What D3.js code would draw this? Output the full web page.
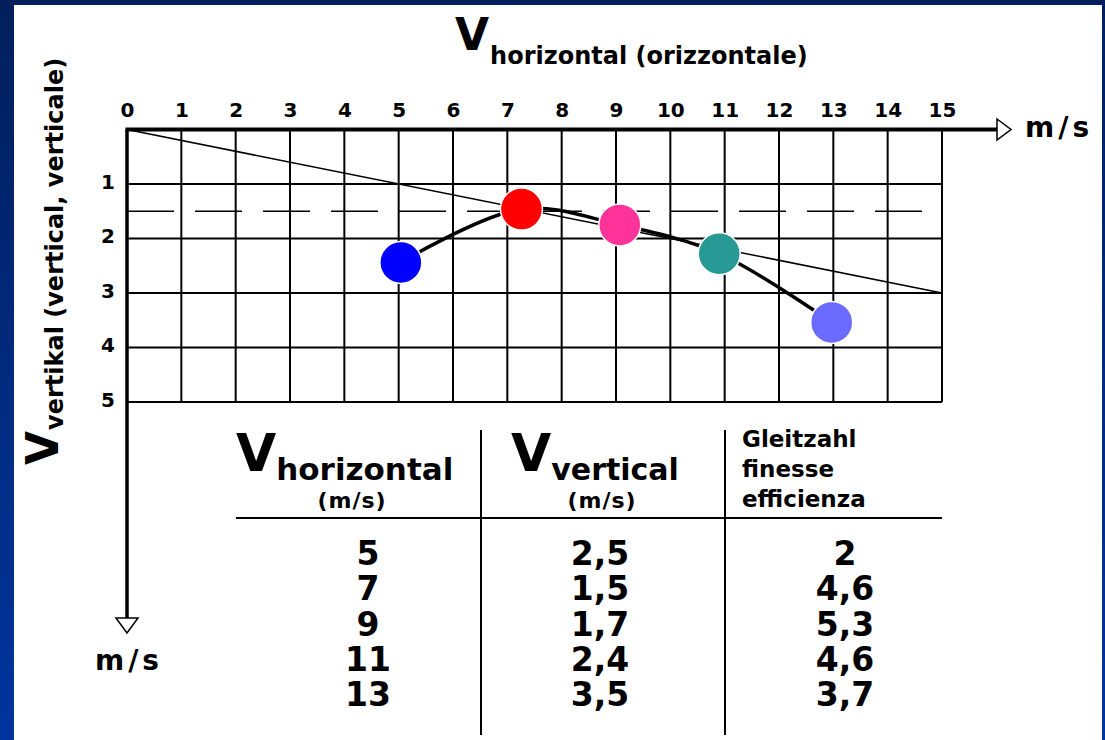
<!DOCTYPE html>
<html><head><meta charset="utf-8">
<script src="https://cdn.jsdelivr.net/npm/d3@7"></script>
<style>
html,body{margin:0;padding:0;background:#fff;}
svg{display:block;}
text{font-family:"DejaVu Sans",sans-serif;font-weight:bold;fill:#000;}
</style></head>
<body>
<svg id="chart" width="1105" height="740"></svg>
<script>
// ---- data ----
const xTicks = d3.range(0, 16);          // 0..15 m/s
const yTicks = [1, 2, 3, 4, 5];          // 1..5 m/s
const yGrid = d3.range(0, 6);
const pointsX = [5.04, 7.26, 9.07, 10.9, 12.97];
const pointsY = [2.44, 1.46, 1.75, 2.28, 3.54];
const pointColors = ["#0000ff", "#ff0000", "#ff3399", "#279a96", "#6b6bff"];
const tangentLine = [[0, 0], [15, 3]];
const dashedLevel = 1.5;
const tableHoriz = ["5", "7", "9", "11", "13"];
const tableVert = ["2,5", "1,5", "1,7", "2,4", "3,5"];
const tableGlide = ["2", "4,6", "5,3", "4,6", "3,7"];
const glideHeader = ["Gleitzahl", "finesse", "efficienza"];

const svg = d3.select("#chart");
const W = 1105, H = 740;

// background frame
const defs = svg.append("defs");
const grad = defs.append("linearGradient").attr("id", "bg").attr("x1", 0).attr("y1", 0).attr("x2", 0).attr("y2", 1);
grad.append("stop").attr("offset", "0%").attr("stop-color", "#001f5c");
grad.append("stop").attr("offset", "100%").attr("stop-color", "#00359e");
svg.append("rect").attr("width", W).attr("height", H).attr("fill", "url(#bg)");
svg.append("rect").attr("x", 14).attr("y", 5).attr("width", 1088).attr("height", H - 5).attr("fill", "#fff");

const x = d3.scaleLinear().domain([0, 15]).range([127, 942]);
const y = d3.scaleLinear().domain([0, 5]).range([129.5, 402]);

const g = svg.append("g");

// grid
g.selectAll("line.vg").data(xTicks.filter(d => d > 0)).join("line")
  .attr("x1", d => x(d)).attr("x2", d => x(d)).attr("y1", y(0)).attr("y2", y(5))
  .attr("stroke", "#000").attr("stroke-width", 2);
g.selectAll("line.hg").data(yGrid.filter(d => d > 0)).join("line")
  .attr("x1", x(0)).attr("x2", x(15)).attr("y1", d => y(d)).attr("y2", d => y(d))
  .attr("stroke", "#000").attr("stroke-width", 2);

// dashed level line
g.append("line").attr("x1", x(0)).attr("x2", x(15)).attr("y1", y(dashedLevel)).attr("y2", y(dashedLevel))
  .attr("stroke", "#000").attr("stroke-width", 1.5).attr("stroke-dasharray", "47 21");

// tangent line
g.append("line").attr("x1", x(tangentLine[0][0])).attr("y1", y(tangentLine[0][1]))
  .attr("x2", x(tangentLine[1][0])).attr("y2", y(tangentLine[1][1]))
  .attr("stroke", "#000").attr("stroke-width", 1.5);

// axes lines with arrows
g.append("line").attr("x1", x(0) - 1.5).attr("x2", 997).attr("y1", y(0)).attr("y2", y(0))
  .attr("stroke", "#000").attr("stroke-width", 4);
g.append("path").attr("d", `M997,${y(0) - 10.5}L1011,${y(0)}L997,${y(0) + 10.5}Z`)
  .attr("fill", "#fff").attr("stroke", "#000").attr("stroke-width", 1.5);
g.append("line").attr("x1", x(0)).attr("x2", x(0)).attr("y1", y(0)).attr("y2", 618)
  .attr("stroke", "#000").attr("stroke-width", 3.5);
g.append("path").attr("d", `M${x(0) - 11},618L${x(0)},633L${x(0) + 11},618Z`)
  .attr("fill", "#fff").attr("stroke", "#000").attr("stroke-width", 1.5);

// axis tick labels via d3 axes
const axTop = g.append("g").attr("transform", `translate(0,${y(0)})`)
  .call(d3.axisTop(x).tickValues(xTicks).tickSize(0).tickPadding(13).tickFormat(d3.format("d")));
axTop.select(".domain").remove();
axTop.selectAll("text").style("font-size", "20px").style("font-family", "DejaVu Sans").style("font-weight", "bold");

const axLeft = g.append("g").attr("transform", `translate(${x(0)},-2)`)
  .call(d3.axisLeft(y).tickValues(yTicks).tickSize(0).tickPadding(12).tickFormat(d3.format("d")));
axLeft.select(".domain").remove();
axLeft.selectAll("text").attr("text-anchor", "middle").attr("x", -19)
  .style("font-size", "20px").style("font-family", "DejaVu Sans").style("font-weight", "bold");

// unit labels
g.append("text").attr("x", 1025).attr("y", 137).style("font-size", "28px").attr("letter-spacing", 4).text("m/s");
g.append("text").attr("x", x(0) + 2).attr("y", 670).attr("text-anchor", "middle").style("font-size", "28px").attr("letter-spacing", 4).text("m/s");

// titles
const t1 = g.append("text").attr("x", 455).attr("y", 50);
t1.append("tspan").style("font-size", "44px").text("V");
t1.append("tspan").attr("dx", 1).attr("dy", 14).style("font-size", "24px").text("horizontal (orizzontale)");

const t2 = g.append("text").attr("transform", "translate(58,465) rotate(-90)");
t2.append("tspan").style("font-size", "44px").text("V");
t2.append("tspan").attr("dx", 1).attr("dy", 5).style("font-size", "24px").text("vertikal (vertical, verticale)");

// curve
const pts = pointsX.map((v, i) => [v, pointsY[i]]);
g.append("path").datum(pts)
  .attr("d", d3.line().x(d => x(d[0])).y(d => y(d[1])).curve(d3.curveCatmullRom.alpha(0.5)))
  .attr("fill", "none").attr("stroke", "#000").attr("stroke-width", 3.5);

// points
g.selectAll("circle.pt").data(pts).join("circle")
  .attr("cx", d => x(d[0])).attr("cy", d => y(d[1])).attr("r", 21)
  .attr("fill", (d, i) => pointColors[i]).attr("stroke", "#fff").attr("stroke-width", 1.5);

// table
const tbl = svg.append("g");
tbl.append("line").attr("x1", 236).attr("x2", 942).attr("y1", 518).attr("y2", 518).attr("stroke", "#000").attr("stroke-width", 2);
[481, 725].forEach(xx => tbl.append("line").attr("x1", xx).attr("x2", xx).attr("y1", 430).attr("y2", 735).attr("stroke", "#000").attr("stroke-width", 2));

const h1 = tbl.append("text").attr("x", 236).attr("y", 471);
h1.append("tspan").style("font-size", "52px").text("V");
h1.append("tspan").attr("dx", 0).attr("dy", 9).style("font-size", "31px").text("horizontal");
tbl.append("text").attr("x", 352).attr("y", 508).attr("text-anchor", "middle").style("font-size", "22px").attr("letter-spacing", 1).text("(m/s)");

const h2 = tbl.append("text").attr("x", 511).attr("y", 471);
h2.append("tspan").style("font-size", "52px").text("V");
h2.append("tspan").attr("dx", 0).attr("dy", 9).style("font-size", "30px").text("vertical");
tbl.append("text").attr("x", 602).attr("y", 508).attr("text-anchor", "middle").style("font-size", "22px").attr("letter-spacing", 1).text("(m/s)");

tbl.selectAll("text.gh").data(glideHeader).join("text")
  .attr("x", 742).attr("y", (d, i) => 447 + i * 30).style("font-size", "23px").text(d => d);

const rowY = d3.scaleLinear().domain([0, 4]).range([565, 706]);
const cols = [[tableHoriz, 368], [tableVert, 600], [tableGlide, 845]];
cols.forEach(([arr, cx]) => {
  tbl.selectAll(null).data(arr).join("text")
    .attr("x", cx).attr("y", (d, i) => rowY(i)).attr("text-anchor", "middle")
    .style("font-size", "33px").text(d => d);
});
</script>
</body></html>
